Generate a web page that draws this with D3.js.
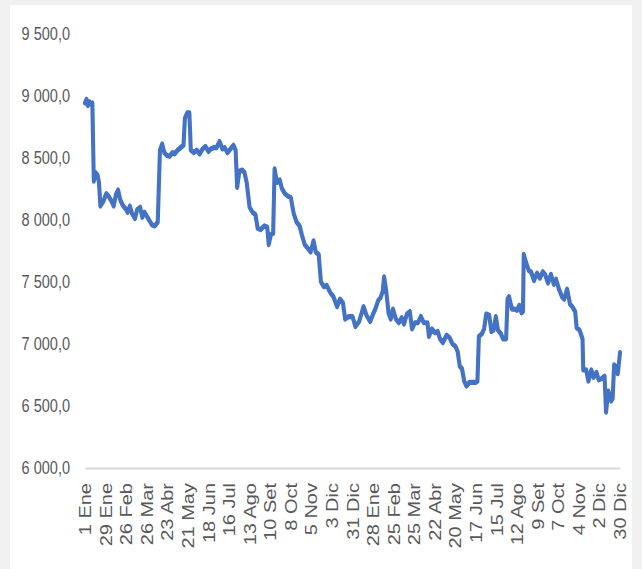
<!DOCTYPE html>
<html>
<head>
<meta charset="utf-8">
<script src="https://cdn.jsdelivr.net/npm/d3@7"></script>
<style>
  html, body { margin: 0; padding: 0; background: #f0f0f0; }
  svg { display: block; }
  text { font-family: "Liberation Sans", Arial, sans-serif; fill: #595959; }
</style>
</head>
<body>
<svg id="chart" width="642" height="569"></svg>
<script>
const dates = [
"2018-01-01","2018-01-03","2018-01-05","2018-01-07","2018-01-09","2018-01-11","2018-01-13","2018-01-15","2018-01-18","2018-01-20",
"2018-01-22","2018-01-26","2018-01-30","2018-02-02","2018-02-06","2018-02-09","2018-02-12","2018-02-15","2018-02-18","2018-02-21",
"2018-02-25","2018-02-28","2018-03-03","2018-03-06","2018-03-10","2018-03-13","2018-03-17","2018-03-20","2018-03-23","2018-03-27",
"2018-03-30","2018-04-02","2018-04-06","2018-04-10","2018-04-13","2018-04-16","2018-04-19","2018-04-22","2018-04-26","2018-04-30",
"2018-05-03","2018-05-07","2018-05-11","2018-05-15","2018-05-17","2018-05-20","2018-05-23","2018-05-25","2018-05-29","2018-06-02",
"2018-06-06","2018-06-10","2018-06-14","2018-06-18","2018-06-21","2018-06-25","2018-06-29","2018-07-03","2018-07-07","2018-07-10",
"2018-07-14","2018-07-18","2018-07-22","2018-07-25","2018-07-27","2018-07-30","2018-08-03","2018-08-06","2018-08-09","2018-08-13",
"2018-08-17","2018-08-21","2018-08-24","2018-08-28","2018-09-02","2018-09-06","2018-09-08","2018-09-11","2018-09-14","2018-09-16",
"2018-09-19","2018-09-23","2018-09-26","2018-09-30","2018-10-04","2018-10-08","2018-10-12","2018-10-16","2018-10-20","2018-10-23",
"2018-10-27","2018-10-31","2018-11-04","2018-11-08","2018-11-11","2018-11-15","2018-11-18","2018-11-22","2018-11-26","2018-12-01",
"2018-12-05","2018-12-10","2018-12-14","2018-12-18","2018-12-21","2018-12-26","2018-12-31","2019-01-04","2019-01-09","2019-01-13",
"2019-01-15","2019-01-19","2019-01-24","2019-01-28","2019-01-31","2019-02-04","2019-02-07","2019-02-10","2019-02-12","2019-02-15",
"2019-02-18","2019-02-21","2019-02-24","2019-02-28","2019-03-04","2019-03-08","2019-03-11","2019-03-15","2019-03-19","2019-03-22",
"2019-03-26","2019-03-30","2019-04-03","2019-04-07","2019-04-12","2019-04-14","2019-04-18","2019-04-22","2019-04-26","2019-04-29",
"2019-05-03","2019-05-08","2019-05-12","2019-05-16","2019-05-20","2019-05-23","2019-05-26","2019-05-29","2019-06-01","2019-06-04",
"2019-06-08","2019-06-12","2019-06-17","2019-06-19","2019-06-21","2019-06-25","2019-06-28","2019-07-01","2019-07-05","2019-07-08",
"2019-07-11","2019-07-14","2019-07-17","2019-07-21","2019-07-24","2019-07-28","2019-07-30","2019-08-01","2019-08-05","2019-08-09",
"2019-08-12","2019-08-15","2019-08-18","2019-08-20","2019-08-21","2019-08-25","2019-08-28","2019-08-31","2019-09-04","2019-09-08",
"2019-09-12","2019-09-16","2019-09-19","2019-09-23","2019-09-27","2019-10-01","2019-10-04","2019-10-08","2019-10-12","2019-10-15",
"2019-10-19","2019-10-23","2019-10-26","2019-10-30","2019-11-01","2019-11-05","2019-11-09","2019-11-10","2019-11-14","2019-11-17",
"2019-11-21","2019-11-24","2019-11-28","2019-12-01","2019-12-05","2019-12-09","2019-12-11","2019-12-14","2019-12-18","2019-12-20",
"2019-12-22","2019-12-25","2019-12-27","2019-12-30"
];
const values = [
8940,8970,8920,8950,8930,8940,8310,8380,8360,8300,
8110,8150,8210,8190,8150,8110,8200,8240,8160,8120,
8090,8060,8110,8050,8010,8080,8100,8020,8060,8020,
7990,7960,7950,7980,8560,8610,8540,8520,8510,8540,
8530,8560,8580,8600,8820,8860,8860,8560,8540,8560,
8530,8570,8590,8550,8570,8580,8580,8630,8570,8580,
8540,8570,8600,8560,8260,8390,8400,8380,8300,8100,
8060,8040,7930,7920,7950,7940,7800,7880,7890,8410,
8300,8320,8250,8210,8190,8180,8050,7980,7950,7880,
7800,7770,7740,7830,7740,7720,7500,7460,7470,7410,
7380,7300,7360,7330,7200,7220,7220,7140,7180,7260,
7300,7230,7180,7240,7280,7350,7370,7420,7540,7420,
7250,7200,7280,7200,7170,7210,7160,7240,7260,7120,
7170,7170,7220,7170,7170,7060,7120,7090,7100,7040,
7010,7070,7050,7000,6980,6940,6820,6800,6700,6660,
6690,6690,6690,6700,7060,7080,7120,7240,7230,7100,
7110,7220,7110,7080,7040,7040,7360,7380,7280,7280,
7270,7310,7250,7260,7720,7640,7590,7580,7510,7570,
7530,7580,7560,7490,7560,7480,7520,7440,7380,7360,
7440,7320,7300,7260,7130,7110,7040,6790,6790,6700,
6790,6730,6770,6710,6720,6740,6450,6620,6540,6560,
6830,6810,6760,6930
];
const xTickDates = [
"2018-01-01","2018-01-29","2018-02-26","2018-03-26","2018-04-23","2018-05-21","2018-06-18","2018-07-16","2018-08-13",
"2018-09-10","2018-10-08","2018-11-05","2018-12-03","2018-12-31","2019-01-28","2019-02-25","2019-03-25","2019-04-22",
"2019-05-20","2019-06-17","2019-07-15","2019-08-12","2019-09-09","2019-10-07","2019-11-04","2019-12-02","2019-12-30"
];
const xTickLabels = [
"1 Ene","29 Ene","26 Feb","26 Mar","23 Abr","21 May","18 Jun","16 Jul","13 Ago",
"10 Set","8 Oct","5 Nov","3 Dic","31 Dic","28 Ene","25 Feb","25 Mar","22 Abr",
"20 May","17 Jun","15 Jul","12 Ago","9 Set","7 Oct","4 Nov","2 Dic","30 Dic"
];
const yTickValues = [6000,6500,7000,7500,8000,8500,9000,9500];
const yTickLabels = ["6 000,0","6 500,0","7 000,0","7 500,0","8 000,0","8 500,0","9 000,0","9 500,0"];

const parse = d3.utcParse("%Y-%m-%d");
const data = dates.map((d, i) => ({ date: parse(d), value: values[i] }));
const xTicks = xTickDates.map(parse);

const SX = 0.785; // horizontal compression of the whole picture
const svg = d3.select("#chart");
svg.append("rect").attr("x", 0).attr("y", 0).attr("width", 642).attr("height", 569).attr("fill", "#f0f0f0");
svg.append("rect").attr("x", 10).attr("y", 5).attr("width", 622).attr("height", 564).attr("fill", "#ffffff");

const g = svg.append("g").attr("transform", `scale(${SX},1)`);

const x = d3.scaleUtc()
  .domain([parse("2018-01-01"), parse("2019-12-30")])
  .range([85 / SX, 620 / SX]);
const y = d3.scaleLinear().domain([6000, 9500]).range([468, 33.5]);

// X axis
const xAxis = g.append("g")
  .attr("transform", `translate(0,${y(6000)})`)
  .call(d3.axisBottom(x)
    .tickValues(xTicks)
    .tickFormat((d, i) => xTickLabels[i])
    .tickSize(0)
    .tickSizeOuter(0));
xAxis.select(".domain").attr("stroke", "#d9d9d9").attr("stroke-width", 2);
xAxis.selectAll(".tick text")
  .attr("font-size", "20px")
  .attr("text-anchor", "end")
  .attr("x", 0).attr("y", 0)
  .attr("dy", "0.36em")
  .attr("transform", "translate(0,15) rotate(-90)")
  .style("font-family", "'Liberation Sans', Arial, sans-serif")
  .attr("fill", "#595959");

// Y axis
const yAxis = g.append("g")
  .attr("transform", `translate(${85 / SX},0)`)
  .call(d3.axisLeft(y)
    .tickValues(yTickValues)
    .tickFormat((d, i) => yTickLabels[i])
    .tickSize(0)
    .tickPadding(85 / SX - 70 / SX));
yAxis.select(".domain").remove();
yAxis.selectAll(".tick text")
  .attr("font-size", "18.5px")
  .style("font-family", "'Liberation Sans', Arial, sans-serif")
  .attr("fill", "#646464");

// Line
const line = d3.line().x(d => x(d.date)).y(d => y(d.value));
g.append("path")
  .datum(data)
  .attr("fill", "none")
  .attr("stroke", "#4472C4")
  .attr("stroke-width", 5.2)
  .attr("stroke-linejoin", "round")
  .attr("stroke-linecap", "round")
  .attr("d", line);
</script>
</body>
</html>
